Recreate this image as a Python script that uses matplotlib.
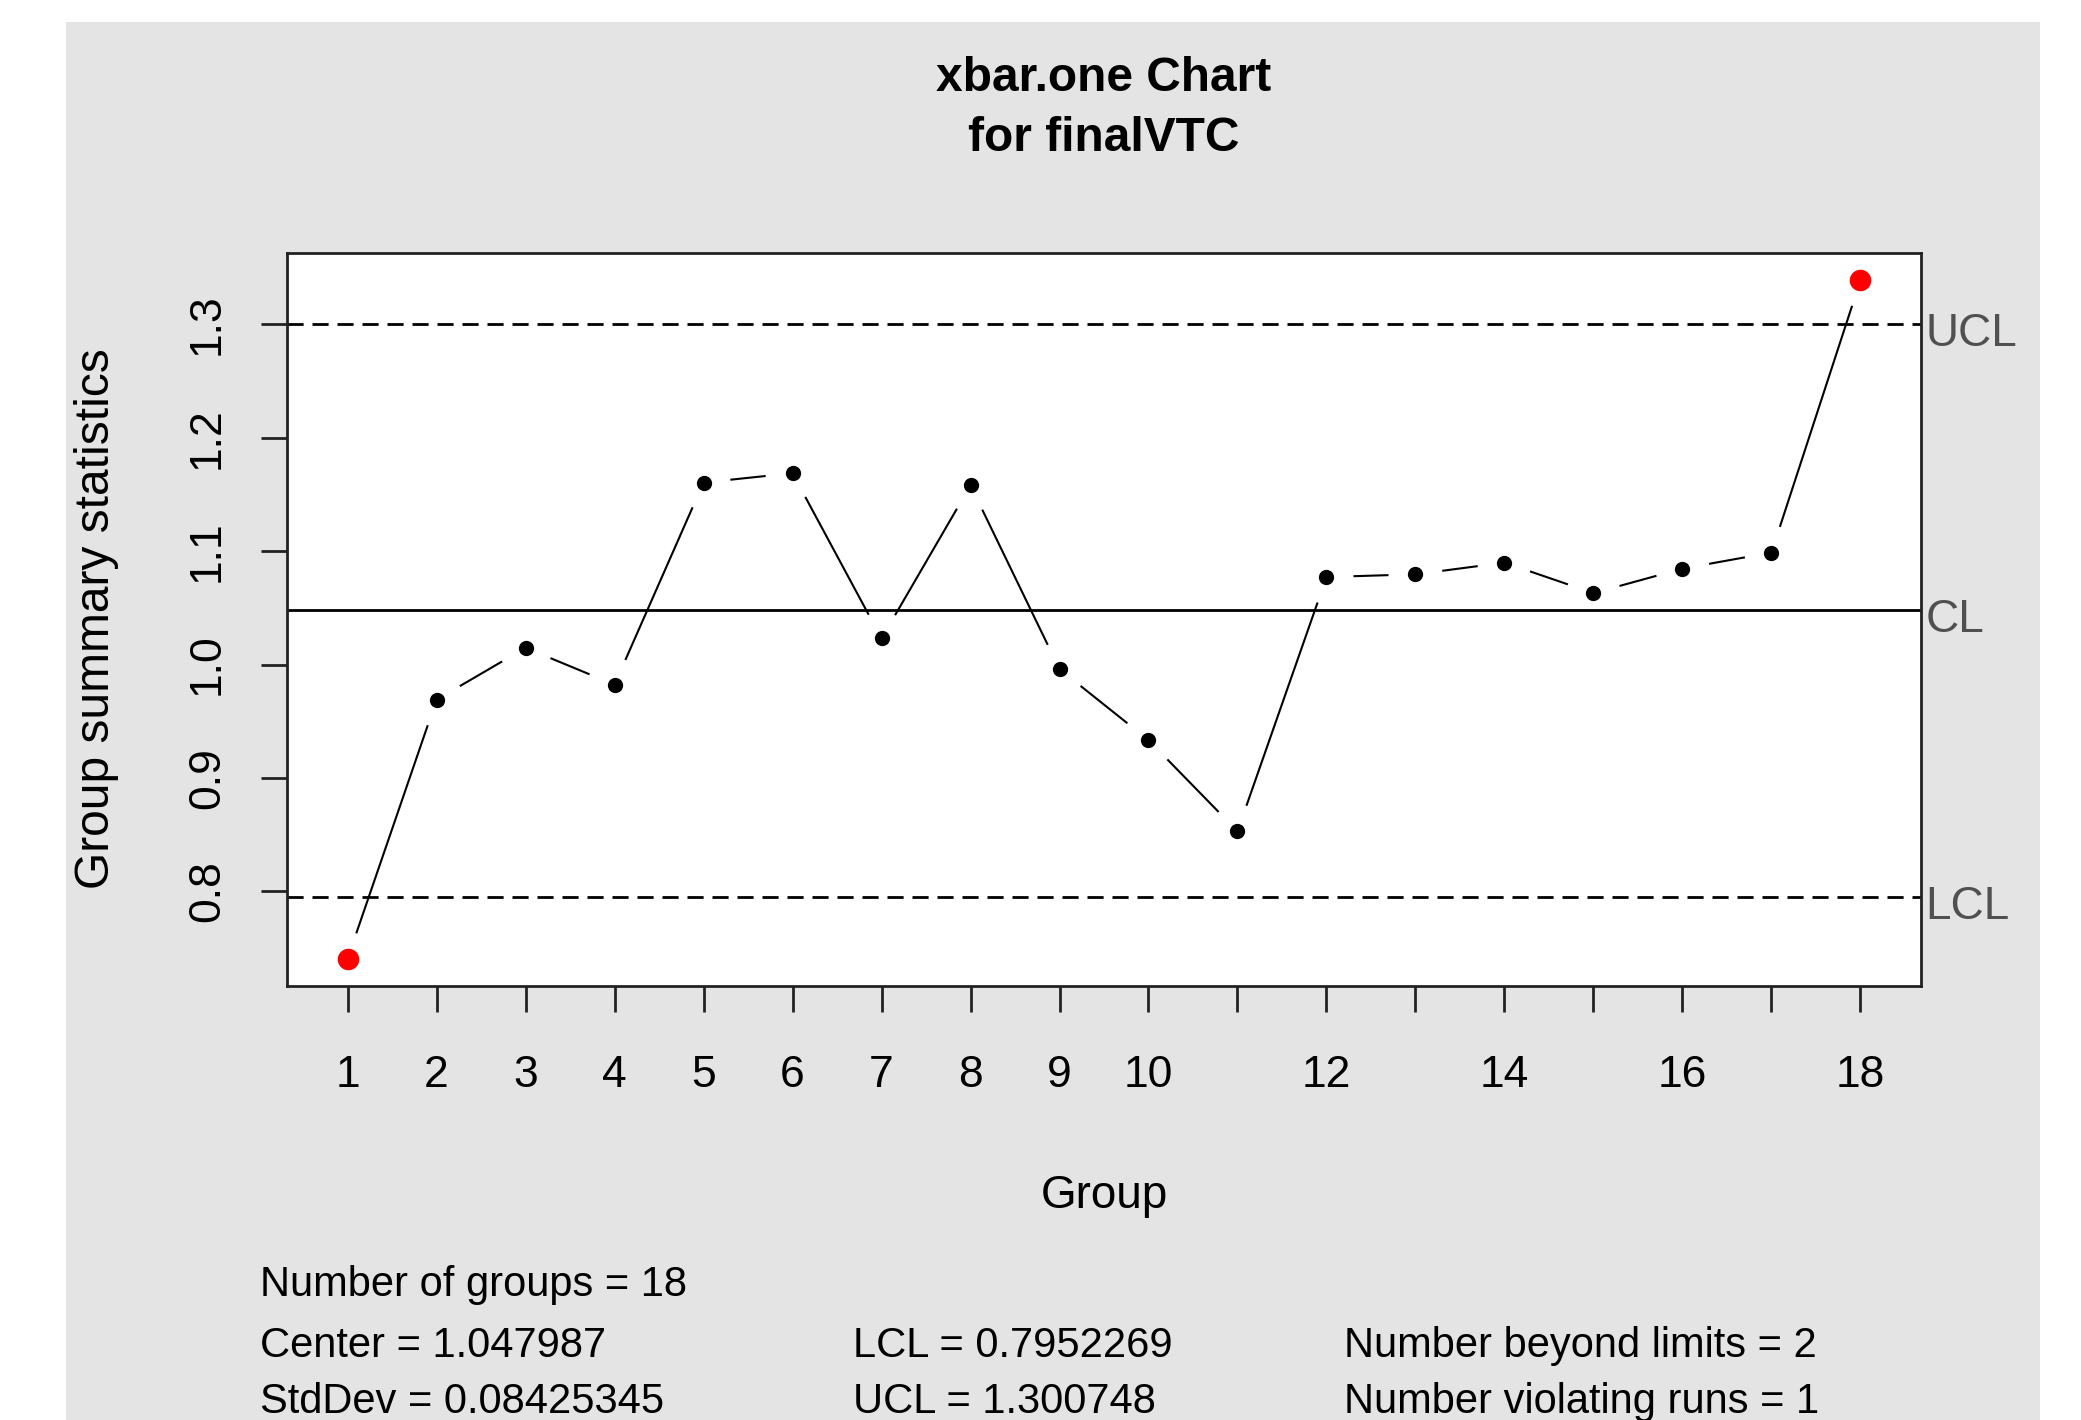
import numpy as np
import matplotlib
matplotlib.use("Agg")
import matplotlib.pyplot as plt
import matplotlib.patches as mpatches
from matplotlib.transforms import blended_transform_factory

plt.rcParams['font.family'] = ['Liberation Sans', 'DejaVu Sans']

# group statistics (one value per group)
groups = np.arange(1, 19)
stats = np.array([0.7405, 0.969, 1.0148, 0.9823, 1.1605, 1.1688, 1.023, 1.158, 0.996,
                  0.9334, 0.853, 1.0772, 1.0796, 1.0899, 1.063, 1.0846, 1.0988, 1.339])
center = 1.047987
std_dev = 0.08425345
lcl = 0.7952269
ucl = 1.300748
n_beyond = 2
n_runs = 1
xtick_labels = ['1', '2', '3', '4', '5', '6', '7', '8', '9', '10',
                '', '12', '', '14', '', '16', '', '18']
yticks = [0.8, 0.9, 1.0, 1.1, 1.2, 1.3]

W, H = 2081, 1420
fig = plt.figure(figsize=(W / 100, H / 100), dpi=100)
fig.patch.set_facecolor('white')

# grey device background
bg = mpatches.Rectangle((66 / W, 0), (2040 - 66) / W, (H - 22) / H,
                        transform=fig.transFigure, facecolor='#e4e4e4',
                        edgecolor='none', zorder=-10)
fig.patches.append(bg)

left, right, top, bottom = 287, 1921, 253, 986
ax = fig.add_axes([left / W, 1 - bottom / H, (right - left) / W, (bottom - top) / H])
ax.set_facecolor('white')

# R-style 4% axis extension
lo = min(stats.min(), lcl)
hi = max(stats.max(), ucl)
pad = 0.04 * (hi - lo)
ax.set_ylim(lo - pad, hi + pad)
xpad = 0.04 * (groups[-1] - groups[0])
ax.set_xlim(groups[0] - xpad, groups[-1] + xpad)

for s in ax.spines.values():
    s.set_linewidth(2.0)
    s.set_color('#222222')

ax.set_xticks(groups)
ax.set_xticklabels(xtick_labels, fontsize=32)
ax.set_yticks(yticks)
ax.set_yticklabels([f'{v:.1f}' for v in yticks], fontsize=32, rotation=90, va='center')
ax.tick_params(axis='both', length=19, width=2.0, color='#222222')
ax.tick_params(axis='x', pad=31)
ax.tick_params(axis='y', pad=23.5)

# control lines
ax.axhline(center, color='black', lw=2.0)
for lim in (lcl, ucl):
    ax.axhline(lim, color='black', lw=2.0, linestyle=(0, (5.8, 3.2)))

lab_tr = blended_transform_factory(ax.transAxes, ax.transData)
for val, name in ((ucl, 'UCL'), (center, 'CL'), (lcl, 'LCL')):
    ax.annotate(name, xy=(1.0, val), xycoords=lab_tr, xytext=(3, -16),
                textcoords='offset points', ha='left', va='baseline',
                fontsize=33, color='#505050', annotation_clip=False)

# connecting segments with gaps around each point (type "b")
gap = 27
pts = ax.transData.transform(np.column_stack([groups, stats]))
inv = ax.transData.inverted()
for p0, p1 in zip(pts[:-1], pts[1:]):
    d = p1 - p0
    L = np.hypot(*d)
    if L <= 2 * gap:
        continue
    u = d / L
    a = inv.transform(p0 + u * gap)
    b = inv.transform(p1 - u * gap)
    ax.plot([a[0], b[0]], [a[1], b[1]], color='black', lw=1.5, solid_capstyle='butt')

out = (stats > ucl) | (stats < lcl)
ax.plot(groups[~out], stats[~out], 'o', color='black', ms=11, mec='none', zorder=5)
ax.plot(groups[out], stats[out], 'o', color='#ff0000', ms=15.5, mec='none', zorder=5)

# titles and axis labels
fig.text(1104 / W, 1 - 91 / H, 'xbar.one Chart', ha='center', va='baseline',
         fontsize=34.5, fontweight='bold')
fig.text(1104 / W, 1 - 151 / H, 'for finalVTC', ha='center', va='baseline',
         fontsize=34.5, fontweight='bold')
fig.text(1104 / W, 1 - 1196 / H, 'Group', ha='center', va='center', fontsize=33)
fig.text(97 / W, 1 - 619 / H, 'Group summary statistics', ha='center', va='center',
         rotation=90, fontsize=34.5)

# summary block
rows = [
    (260, 1296, f'Number of groups = {len(groups)}'),
    (260, 1357, f'Center = {center}'),
    (853, 1357, f'LCL = {lcl}'),
    (1344, 1357, f'Number beyond limits = {n_beyond}'),
    (260, 1413, f'StdDev = {std_dev}'),
    (853, 1413, f'UCL = {ucl}'),
    (1344, 1413, f'Number violating runs = {n_runs}'),
]
for x, y, txt in rows:
    fig.text(x / W, 1 - y / H, txt, ha='left', va='baseline', fontsize=30)

fig.savefig('out.png', dpi=100)
